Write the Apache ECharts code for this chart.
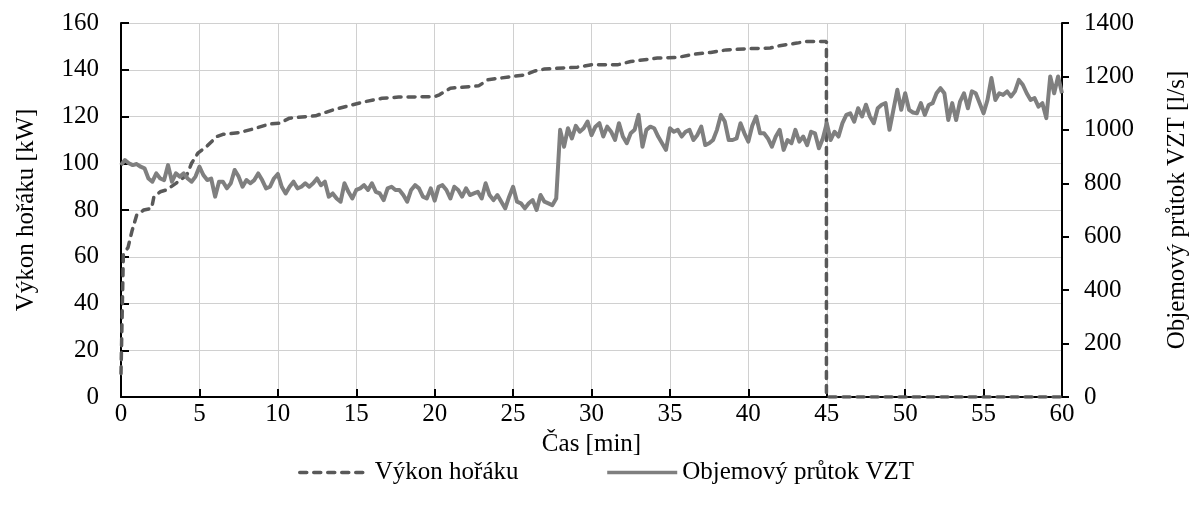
<!DOCTYPE html>
<html>
<head>
<meta charset="utf-8">
<script src="https://cdn.jsdelivr.net/npm/echarts@6/dist/echarts.min.js"></script>
<style>
html,body{margin:0;padding:0;background:#fff;}
#chart{width:1198px;height:511px;}
</style>
</head>
<body>
<div id="chart"></div>
<script>
// ---- data ----
const seriesNames = ['Výkon hořáku', 'Objemový průtok VZT'];
const xAxisTitle = 'Čas [min]';
const leftAxisTitle = 'Výkon hořáku [kW]';
const rightAxisTitle = 'Objemový průtok VZT [l/s]';
const xRange = [0, 60, 5];
const leftRange = [0, 160, 20];
const rightRange = [0, 1400, 200];

// burner power (kW) at time (min)
const powerMin = [0, 0.15, 0.45, 0.7, 1.0, 1.45, 1.95, 2.1, 2.5, 2.9, 3.5, 4.2, 4.5, 4.9, 5.45, 6.1, 6.5, 7.55, 8.6, 9.45, 10.1, 10.75, 12.4, 13.5, 14.75, 15.6, 16.65, 17.7, 20.0, 20.3, 21.0, 22.8, 23.4, 24.9, 25.75, 26.4, 27.0, 29.1, 30.0, 31.65, 32.5, 34.2, 35.5, 36.6, 37.6, 38.6, 40.0, 41.4, 42.0, 43.1, 43.7, 44.98, 44.98, 60];
const powerKW = [10, 61, 64, 71, 77.8, 80, 80.7, 85.7, 87.8, 88.6, 91.4, 95, 100, 104.3, 107.1, 111.4, 112.4, 113.1, 115, 116.8, 117.1, 119.3, 120.3, 122.8, 125, 126.4, 127.8, 128.3, 128.5, 129.3, 132.1, 133.1, 135.7, 137.1, 137.8, 139.5, 140.3, 141.1, 142.1, 142.1, 143.5, 145, 145.3, 146.7, 147.4, 148.5, 149, 149.3, 150.3, 151.4, 152.1, 152.1, 0, 0];

// ventilation flow (l/s), sampled every 0.25 min from 0 to 60 min
const FLOW_STEP_MIN = 0.25;
const flowLps = [
 868, 887, 875, 868, 872, 862, 856, 818, 806, 837, 818, 812, 868, 806, 837, 825, 837, 818, 806, 825,
 862, 831, 812, 818, 750, 806, 806, 781, 800, 850, 825, 787, 812, 800, 812, 837, 812, 781, 787, 818,
 835, 787, 762, 787, 806, 781, 787, 800, 787, 800, 818, 793, 806, 750, 762, 743, 731, 800, 768, 743,
 775, 781, 793, 775, 800, 768, 762, 737, 781, 787, 775, 775, 756, 731, 775, 793, 781, 750, 743, 781,
 735, 787, 793, 775, 743, 787, 775, 750, 781, 756, 762, 768, 743, 800, 756, 737, 756, 731, 706, 750,
 787, 731, 725, 706, 725, 737, 700, 756, 731, 725, 718, 743, 1000, 937, 1006, 968, 1015, 993, 1006, 1031,
 980, 1012, 1025, 975, 1012, 993, 962, 1025, 975, 950, 987, 1000, 1056, 937, 1000, 1012, 1006, 975, 950, 925,
 1006, 993, 1000, 975, 993, 1000, 962, 981, 1012, 943, 950, 962, 1000, 1056, 1031, 962, 962, 968, 1025, 987,
 956, 1015, 1050, 987, 987, 968, 937, 975, 1000, 925, 962, 950, 1000, 956, 975, 943, 993, 987, 931, 968,
 1025, 962, 993, 975, 1025, 1056, 1062, 1031, 1081, 1050, 1094, 1050, 1025, 1081, 1094, 1100, 1000, 1075, 1150, 1075,
 1137, 1075, 1065, 1062, 1100, 1056, 1093, 1100, 1137, 1156, 1137, 1037, 1100, 1037, 1106, 1137, 1081, 1144, 1137, 1100,
 1062, 1112, 1194, 1112, 1137, 1131, 1144, 1125, 1144, 1187, 1169, 1137, 1112, 1119, 1087, 1100, 1044, 1200, 1137, 1200,
 1137
];

// ---- chart ----
const FONT = 'Liberation Serif';
const chart = echarts.init(document.getElementById('chart'), null, {renderer: 'canvas'});
const txt = {fontFamily: FONT, fontSize: 25, color: '#000'};
const plain = v => String(v);

chart.setOption({
  animation: false,
  backgroundColor: '#fff',
  grid: {left: 121, right: 131, top: 23, bottom: 114, containLabel: false},
  legend: {
    data: seriesNames,
    left: 293, top: 455,
    itemWidth: 70, itemHeight: 14, itemGap: 87,
    itemStyle: {opacity: 0},
    lineStyle: {width: 3.5},
    textStyle: Object.assign({lineHeight: 25}, txt)
  },
  xAxis: {
    type: 'value', min: xRange[0], max: xRange[1], interval: xRange[2],
    name: xAxisTitle, nameLocation: 'middle', nameGap: 28,
    nameTextStyle: Object.assign({lineHeight: 25}, txt),
    axisLine: {show: true, lineStyle: {color: '#000', width: 2}},
    axisTick: {show: true, inside: true, length: 8, lineStyle: {color: '#000', width: 2}},
    axisLabel: Object.assign({margin: 5, lineHeight: 25, formatter: plain}, txt),
    splitLine: {show: true, lineStyle: {color: '#d0d0d0', width: 1}}
  },
  yAxis: [{
    type: 'value', position: 'left', min: leftRange[0], max: leftRange[1], interval: leftRange[2],
    name: leftAxisTitle, nameLocation: 'middle', nameGap: 82,
    nameTextStyle: Object.assign({lineHeight: 25}, txt),
    axisLine: {show: true, lineStyle: {color: '#000', width: 2}},
    axisTick: {show: true, inside: true, length: 8, lineStyle: {color: '#000', width: 2}},
    axisLabel: Object.assign({margin: 22, formatter: plain}, txt),
    splitLine: {show: true, lineStyle: {color: '#d0d0d0', width: 1}}
  }, {
    type: 'value', position: 'right', min: rightRange[0], max: rightRange[1], interval: rightRange[2],
    name: rightAxisTitle, nameLocation: 'middle', nameGap: 103,
    nameTextStyle: Object.assign({lineHeight: 25}, txt),
    axisLine: {show: true, lineStyle: {color: '#000', width: 2}},
    axisTick: {show: true, inside: false, length: 7, lineStyle: {color: '#000', width: 2}},
    axisLabel: Object.assign({margin: 22, formatter: plain}, txt),
    splitLine: {show: false}
  }],
  series: [{
    name: seriesNames[0], type: 'line', yAxisIndex: 0,
    symbol: 'none', showSymbol: false,
    lineStyle: {color: '#595959', width: 3.5, type: [7, 7], cap: 'round'},
    itemStyle: {color: '#595959'},
    data: powerMin.map((t, i) => [t, powerKW[i]])
  }, {
    name: seriesNames[1], type: 'line', yAxisIndex: 1,
    symbol: 'none', showSymbol: false,
    lineStyle: {color: '#7f7f7f', width: 4, join: 'round'},
    itemStyle: {color: '#7f7f7f'},
    data: flowLps.map((v, i) => [i * FLOW_STEP_MIN, v])
  }]
});
</script>
</body>
</html>
